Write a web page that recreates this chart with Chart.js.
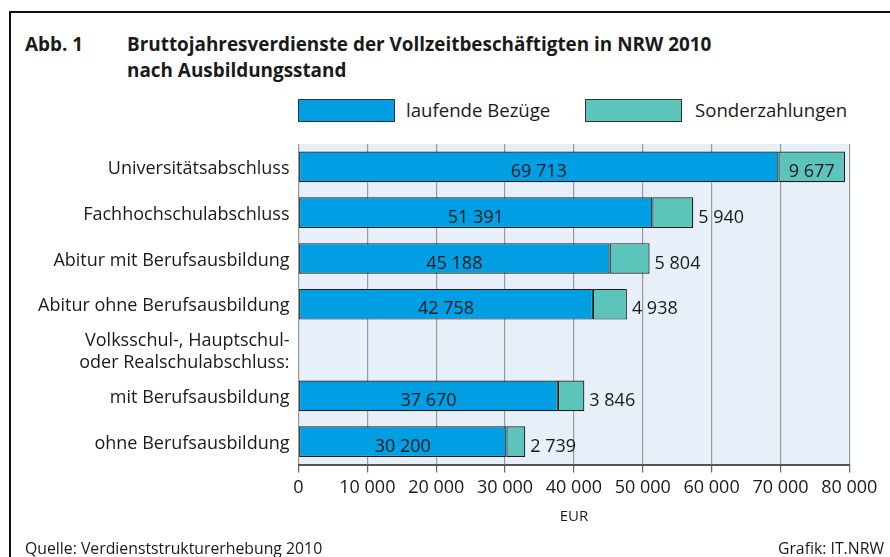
<!DOCTYPE html>
<html lang="de">
<head>
    <meta charset="UTF-8">
    <title>Abb. 1 Bruttojahresverdienste NRW 2010</title>
    <script src="https://cdn.jsdelivr.net/npm/chart.js@4.4.0/dist/chart.umd.min.js"></script>
    <style>
        body {
            margin: 0;
            background: #fff;
            font-family: "Open Sans", sans-serif;
            color: #1a1a1a;
        }
        .frame {
            position: relative;
            width: 890px;
            height: 557px;
            overflow: hidden;
        }
        .frame-line-top {
            position: absolute;
            left: 9px;
            top: 11px;
            width: 881px;
            height: 2px;
            background: #111;
        }
        .frame-line-left {
            position: absolute;
            left: 9px;
            top: 11px;
            width: 2px;
            height: 546px;
            background: #111;
        }
        .title {
            position: absolute;
            font-weight: bold;
            font-size: 18.9px;
            line-height: 26px;
        }
        .legend-box {
            position: absolute;
            width: 97px;
            height: 23px;
            border: 1px solid #333;
            box-sizing: border-box;
        }
        .legend-text {
            position: absolute;
            font-size: 18.6px;
            line-height: 23px;
        }
        .footer {
            position: absolute;
            font-size: 15.8px;
            line-height: 18px;
        }
        #chartWrap {
            position: absolute;
            left: 0;
            top: 0;
            width: 890px;
            height: 557px;
        }
    </style>
</head>
<body>
<div class="frame">
    <div class="frame-line-top"></div>
    <div class="frame-line-left"></div>

    <div class="title" style="left:25px; top:31px;">Abb. 1</div>
    <div class="title" style="left:127px; top:31px;">Bruttojahresverdienste der Vollzeitbeschäftigten in NRW 2010<br>nach Ausbildungsstand</div>

    <div class="legend-box" style="left:298px; top:99px; background:#009fe3;"></div>
    <div class="legend-text" style="left:406px; top:98px;">laufende Bezüge</div>
    <div class="legend-box" style="left:585px; top:99px; background:#5cc5bb;"></div>
    <div class="legend-text" style="left:695px; top:98px;">Sonderzahlungen</div>

    <div id="chartWrap"><canvas id="chart"></canvas></div>

    <div class="footer" style="left:25px; top:539px;">Quelle: Verdienststrukturerhebung 2010</div>
    <div class="footer" style="right:6px; top:539px;">Grafik: IT.NRW</div>
</div>

<script>
    const categories = [
        'Universitätsabschluss',
        'Fachhochschulabschluss',
        'Abitur mit Berufsausbildung',
        'Abitur ohne Berufsausbildung',
        ['Volksschul-, Hauptschul-', 'oder Realschulabschluss:'],
        'mit Berufsausbildung',
        'ohne Berufsausbildung'
    ];
    const laufendeBezuege = [69713, 51391, 45188, 42758, null, 37670, 30200];
    const sonderzahlungen = [9677, 5940, 5804, 4938, null, 3846, 2739];
    const axisMax = 80000;
    const tickStep = 10000;

    const blue = '#009fe3';
    const teal = '#5cc5bb';
    const plotBg = '#e7eff9';
    const textColor = '#1a1a1a';
    const fontSize = 18;

    function formatNumber(n) {
        return String(n).replace(/\B(?=(\d{3})+(?!\d))/g, ' ');
    }

    // light blue plot background
    const plotBackground = {
        id: 'plotBackground',
        beforeDraw(chart) {
            const { ctx, chartArea } = chart;
            ctx.save();
            ctx.fillStyle = plotBg;
            ctx.fillRect(chartArea.left, chartArea.top, chartArea.right - chartArea.left, chartArea.bottom - chartArea.top);
            ctx.restore();
        }
    };

    // numbers on / next to the bars
    const valueLabels = {
        id: 'valueLabels',
        afterDatasetsDraw(chart) {
            const ctx = chart.ctx;
            ctx.save();
            ctx.font = fontSize + 'px "Open Sans"';
            ctx.fillStyle = textColor;
            ctx.textBaseline = 'middle';

            chart.getDatasetMeta(0).data.forEach((el, i) => {
                const v = laufendeBezuege[i];
                if (v == null) return;
                ctx.textAlign = 'center';
                ctx.fillText(formatNumber(v), (el.x + el.base) / 2, el.y + 5);
            });

            chart.getDatasetMeta(1).data.forEach((el, i) => {
                const v = sonderzahlungen[i];
                if (v == null) return;
                const txt = formatNumber(v);
                const segW = el.x - el.base;
                if (segW > ctx.measureText(txt).width + 10) {
                    ctx.textAlign = 'center';
                    ctx.fillText(txt, (el.x + el.base) / 2, el.y + 5);
                } else {
                    ctx.textAlign = 'left';
                    ctx.fillText(txt, el.x + 5, el.y + 5);
                }
            });
            ctx.restore();
        }
    };

    const ctx = document.getElementById('chart').getContext('2d');
    new Chart(ctx, {
        type: 'bar',
        data: {
            labels: categories,
            datasets: [
                {
                    label: 'laufende Bezüge',
                    data: laufendeBezuege,
                    backgroundColor: blue,
                    borderColor: '#1a1a1a',
                    borderWidth: 1.2,
                    borderSkipped: false
                },
                {
                    label: 'Sonderzahlungen',
                    data: sonderzahlungen,
                    backgroundColor: teal,
                    borderColor: '#1a1a1a',
                    borderWidth: 1.2,
                    borderSkipped: false
                }
            ]
        },
        options: {
            indexAxis: 'y',
            responsive: true,
            maintainAspectRatio: false,
            animation: false,
            barPercentage: 0.67,
            categoryPercentage: 1,
            layout: {
                padding: { top: 144, right: 40.7, bottom: 0, left: 0 }
            },
            plugins: {
                legend: { display: false },
                tooltip: { enabled: false }
            },
            scales: {
                x: {
                    stacked: true,
                    min: 0,
                    max: axisMax,
                    afterFit(scale) { scale.height = 92.5; },
                    border: { display: true, color: '#555', width: 2 },
                    grid: {
                        color: '#999',
                        lineWidth: 1.2,
                        drawTicks: true,
                        tickLength: 8,
                        tickColor: '#666'
                    },
                    ticks: {
                        stepSize: tickStep,
                        maxRotation: 0,
                        autoSkip: false,
                        padding: 5,
                        color: textColor,
                        font: { family: 'Open Sans', size: fontSize },
                        callback: v => formatNumber(v)
                    },
                    title: {
                        display: true,
                        text: 'EUR',
                        color: textColor,
                        font: { family: 'Open Sans', size: 15 },
                        padding: { top: 0, bottom: 31 }
                    }
                },
                y: {
                    stacked: true,
                    afterFit(scale) { scale.width = 298.5; },
                    border: { display: false },
                    grid: { display: false, drawTicks: false },
                    ticks: {
                        autoSkip: false,
                        padding: 9,
                        color: textColor,
                        font: { family: 'Open Sans', size: fontSize, lineHeight: 1.2 },
                        labelOffset: 2
                    }
                }
            }
        },
        plugins: [plotBackground, valueLabels]
    });
</script>
</body>
</html>
